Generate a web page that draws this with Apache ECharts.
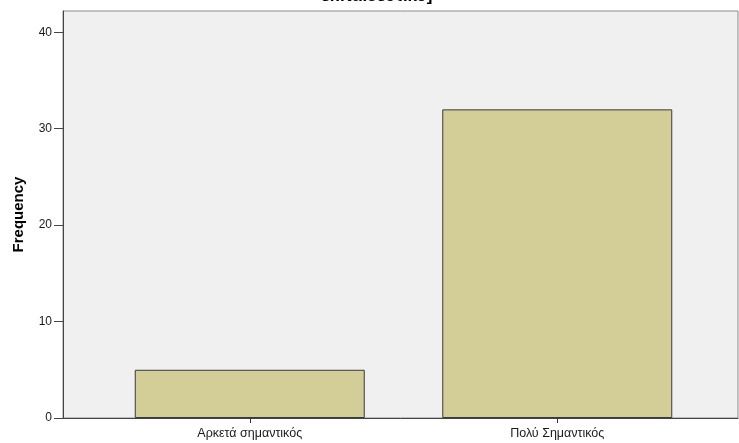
<!DOCTYPE html>
<html>
<head>
<meta charset="utf-8">
<script src="https://cdn.jsdelivr.net/npm/echarts@6/dist/echarts.min.js"></script>
<style>html,body{margin:0;padding:0;background:#fff}#c{width:739px;height:443px}</style>
</head>
<body>
<div id="c"></div>
<script>
const categories = ['Αρκετά σημαντικός', 'Πολύ Σημαντικός'];
const frequencies = [5, 32];
const yTicks = [0, 10, 20, 30, 40];
const titleText = 'εκπαιδευτικό]';

const chart = echarts.init(document.getElementById('c'), null, {renderer: 'canvas'});
const font = 'Arial, "Liberation Sans", sans-serif';
const yMax = 42.2;
chart.setOption({
  animation: false,
  title: {
    text: titleText, left: 372, textAlign: 'center', top: -17,
    textStyle: {fontFamily: font, fontSize: 17, fontWeight: 'bold', color: '#000'}
  },
  grid: [
    {left: 63, right: 1, top: 11, bottom: 25, show: true, backgroundColor: '#f0f0f0', borderColor: '#8a8a8a', borderWidth: 1},
    {left: 96, right: 28, top: 11, bottom: 25}
  ],
  xAxis: [
    {gridIndex: 0, type: 'value', min: 0, max: 1, show: true,
     axisLine: {show: true, lineStyle: {color: '#444', width: 1}}, axisTick: {show: false},
     axisLabel: {show: false}, splitLine: {show: false}},
    {gridIndex: 1, type: 'category', data: categories,
     axisLine: {show: false}, axisTick: {show: true, alignWithLabel: true, length: 5, lineStyle: {color: '#333'}},
     axisLabel: {fontFamily: font, fontSize: 12.5, color: '#1a1a1a', margin: 9}}
  ],
  yAxis: [
    {gridIndex: 0, type: 'value', min: 0, max: yMax, interval: 10,
     name: 'Frequency', nameLocation: 'middle', nameGap: 37,
     nameTextStyle: {fontFamily: font, fontSize: 15, fontWeight: 'bold', color: '#000'},
     axisLine: {show: true, lineStyle: {color: '#444'}},
     axisTick: {show: true, length: 9, customValues: yTicks, lineStyle: {color: '#444'}},
     axisLabel: {fontFamily: font, fontSize: 12, color: '#1a1a1a', margin: 11, customValues: yTicks},
     splitLine: {show: false}},
    {gridIndex: 1, type: 'value', min: 0, max: yMax, show: false}
  ],
  series: [{
    type: 'bar', xAxisIndex: 1, yAxisIndex: 1,
    data: frequencies, barWidth: 230,
    itemStyle: {color: '#d3ce97', borderColor: '#3a3a3a', borderWidth: 1}
  }]
});
</script>
</body>
</html>
